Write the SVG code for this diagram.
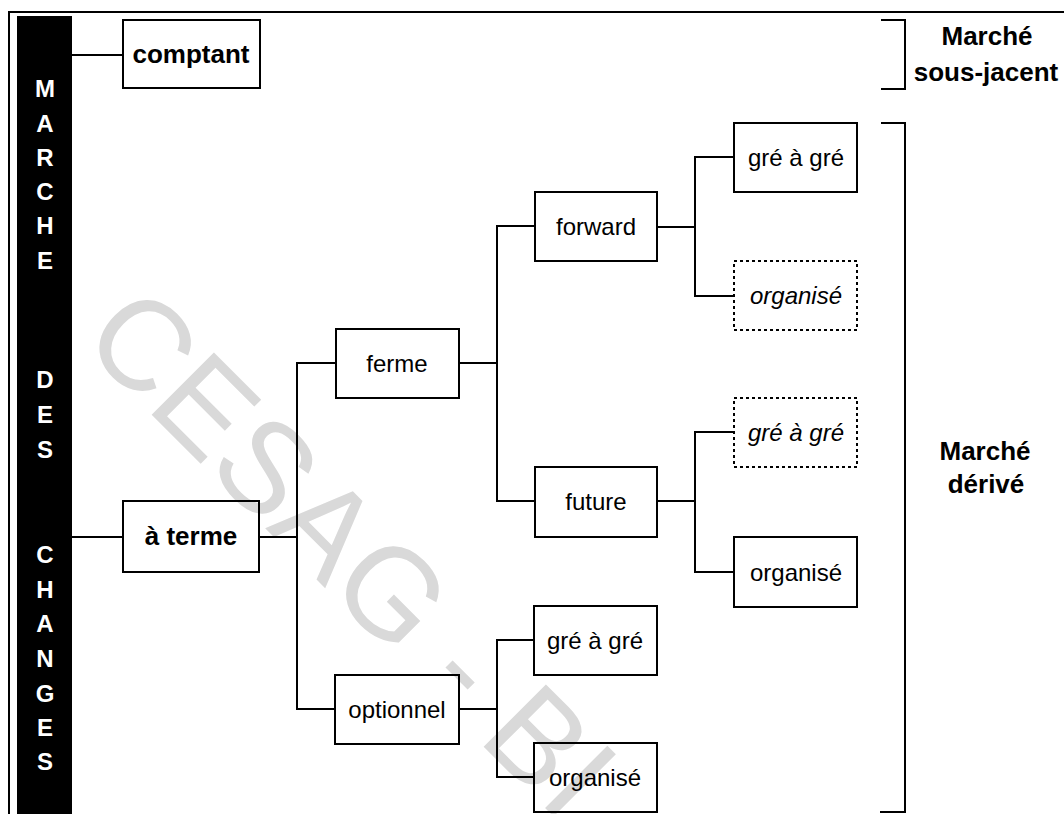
<svg xmlns="http://www.w3.org/2000/svg" width="1064" height="814" viewBox="0 0 1064 814">
<style>
.box{fill:none;stroke:#000;stroke-width:2}
.dash{fill:none;stroke:#000;stroke-width:2;stroke-dasharray:3 3}
.ln{fill:none;stroke:#000;stroke-width:2}
.t{font-family:"Liberation Sans",Arial,sans-serif;font-size:24px;fill:#000;text-anchor:middle}
.i{font-style:italic}
.b{font-family:"Liberation Sans",Arial,sans-serif;font-size:26px;font-weight:bold;fill:#000;text-anchor:middle}
.bar{font-family:"Liberation Sans",Arial,sans-serif;font-size:24px;font-weight:bold;fill:#fff;text-anchor:middle}
.wm{font-family:"Liberation Sans",Arial,sans-serif;font-size:128px;fill:#d9d9d9}
</style>
<rect width="1064" height="814" fill="#fff"/>
<text class="wm" transform="translate(79,342) rotate(45)">CESAG - BI</text>
<g id="frame">
<path class="ln" d="M9,814 V12 H1064"/>
</g>
<g id="bar">
<rect x="17" y="16" width="55" height="798" fill="#000"/>
<text class="bar" x="45" y="97">M</text>
<text class="bar" x="45" y="132">A</text>
<text class="bar" x="45" y="166">R</text>
<text class="bar" x="45" y="200">C</text>
<text class="bar" x="45" y="234">H</text>
<text class="bar" x="45" y="269">E</text>
<text class="bar" x="45" y="388">D</text>
<text class="bar" x="45" y="423">E</text>
<text class="bar" x="45" y="458">S</text>
<text class="bar" x="45" y="563">C</text>
<text class="bar" x="45" y="598">H</text>
<text class="bar" x="45" y="632">A</text>
<text class="bar" x="45" y="667">N</text>
<text class="bar" x="45" y="702">G</text>
<text class="bar" x="45" y="736">E</text>
<text class="bar" x="45" y="770">S</text>
</g>
<g id="connectors">
<path class="ln" d="M72,55 H123"/>
<path class="ln" d="M72,537 H123"/>
<path class="ln" d="M259,537 H297"/>
<path class="ln" d="M336,363 H297 V709 H335"/>
<path class="ln" d="M459,363 H497"/>
<path class="ln" d="M535,226 H497 V501 H535"/>
<path class="ln" d="M657,227 H695"/>
<path class="ln" d="M734,157 H695 V296 H734"/>
<path class="ln" d="M657,501 H695"/>
<path class="ln" d="M734,432 H695 V572 H734"/>
<path class="ln" d="M459,709 H497"/>
<path class="ln" d="M534,640 H497 V777 H534"/>
</g>
<g id="comptant"><rect class="box" x="123" y="20" width="137" height="68"/><text class="b" x="191" y="63">comptant</text></g>
<g id="aterme"><rect class="box" x="123" y="501" width="136" height="71"/><text class="b" x="191" y="545">à terme</text></g>
<g id="ferme"><rect class="box" x="336" y="329" width="123" height="69"/><text class="t" x="397" y="372">ferme</text></g>
<g id="optionnel"><rect class="box" x="335" y="675" width="124" height="69"/><text class="t" x="397" y="718">optionnel</text></g>
<g id="forward"><rect class="box" x="535" y="192" width="122" height="69"/><text class="t" x="596" y="235">forward</text></g>
<g id="future"><rect class="box" x="535" y="467" width="122" height="70"/><text class="t" x="596" y="510">future</text></g>
<g id="opt-gre"><rect class="box" x="534" y="606" width="123" height="69"/><text class="t" x="595" y="649">gré à gré</text></g>
<g id="opt-org"><rect class="box" x="534" y="743" width="123" height="69"/><text class="t" x="595" y="786">organisé</text></g>
<g id="fwd-gre"><rect class="box" x="734" y="123" width="123" height="69"/><text class="t" x="796" y="166">gré à gré</text></g>
<g id="fwd-org"><rect class="dash" x="734" y="261" width="123" height="69"/><text class="t i" x="796" y="304">organisé</text></g>
<g id="fut-gre"><rect class="dash" x="734" y="398" width="123" height="69"/><text class="t i" x="796" y="441">gré à gré</text></g>
<g id="fut-org"><rect class="box" x="734" y="537" width="123" height="70"/><text class="t" x="796" y="581">organisé</text></g>
<g id="sous-jacent">
<path class="ln" d="M881,20 H905 V89 H881"/>
<text class="b" x="987" y="45">Marché</text>
<text class="b" x="986" y="81">sous-jacent</text>
</g>
<g id="derive">
<path class="ln" d="M881,123 H905 V812 H880"/>
<text class="b" x="985" y="460">Marché</text>
<text class="b" x="986" y="493">dérivé</text>
</g>
</svg>
